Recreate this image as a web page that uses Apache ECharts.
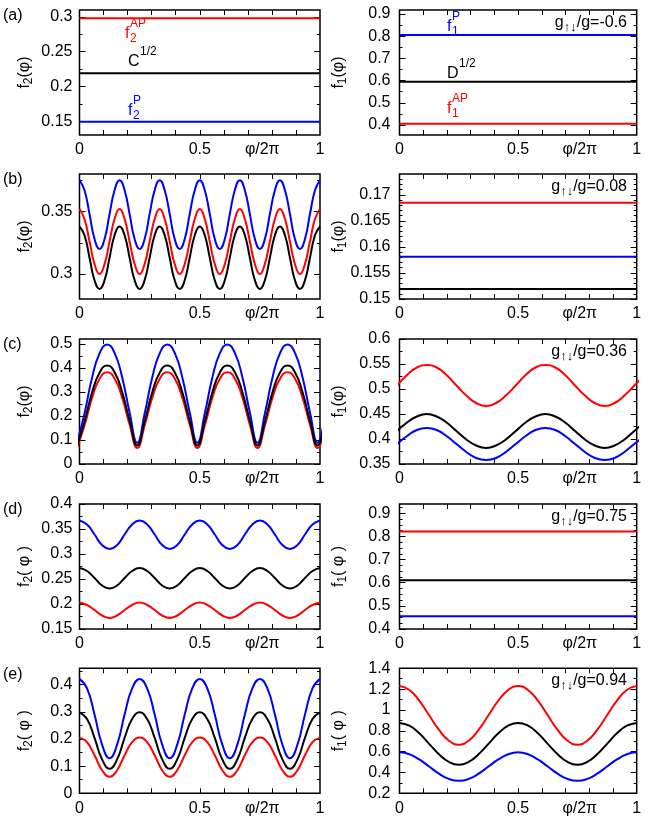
<!DOCTYPE html>
<html lang="en">
<head>
<meta charset="UTF-8">
<title>f1 / f2 vs phi</title>
<script src="https://cdn.jsdelivr.net/npm/echarts@6/dist/echarts.min.js"></script>
<style>
	html, body { margin: 0; padding: 0; background: #fff; }
	#main { width: 654px; height: 822px; }
</style>
</head>
<body>
<div id="main"></div>
<script>
var FF = '"Liberation Sans", Arial, Helvetica, sans-serif';
var RED = '#ff0000', BLUE = '#0000ff', BLACK = '#000000';

// x sample positions (phi/2pi)
var xFlat = [0, 1];
var xs48 = [0, 0.0208, 0.0417, 0.0625, 0.0833, 0.1042, 0.125, 0.1458,
	0.1667, 0.1875, 0.2083, 0.2292, 0.25, 0.2708, 0.2917, 0.3125,
	0.3333, 0.3542, 0.375, 0.3958, 0.4167, 0.4375, 0.4583, 0.4792,
	0.5, 0.5208, 0.5417, 0.5625, 0.5833, 0.6042, 0.625, 0.6458,
	0.6667, 0.6875, 0.7083, 0.7292, 0.75, 0.7708, 0.7917, 0.8125,
	0.8333, 0.8542, 0.875, 0.8958, 0.9167, 0.9375, 0.9583, 0.9792, 1];
var xs32 = [0, 0.0313, 0.0625, 0.0938, 0.125, 0.1563, 0.1875, 0.2188,
	0.25, 0.2813, 0.3125, 0.3438, 0.375, 0.4063, 0.4375, 0.4688,
	0.5, 0.5313, 0.5625, 0.5938, 0.625, 0.6563, 0.6875, 0.7188,
	0.75, 0.7813, 0.8125, 0.8438, 0.875, 0.9063, 0.9375, 0.9688, 1];
var xsC = [-0.01, 0.0213, 0.0525, 0.0838, 0.115, 0.1463, 0.1775, 0.2088,
	0.24, 0.2713, 0.3025, 0.3338, 0.365, 0.3963, 0.4275, 0.4588,
	0.49, 0.5213, 0.5525, 0.5838, 0.615, 0.6463, 0.6775, 0.7088,
	0.74, 0.7713, 0.8025, 0.8338, 0.865, 0.8963, 0.9275, 0.9588, 0.99, 1.0213];
var xsCR = [-0.01, 0.0317, 0.0733, 0.115, 0.1567, 0.1983, 0.24, 0.2817, 0.3233,
	0.365, 0.4067, 0.4483, 0.49, 0.5317, 0.5733, 0.615, 0.6567, 0.6983,
	0.74, 0.7817, 0.8233, 0.865, 0.9067, 0.9483, 0.99, 1.0317];
var xs24 = [0, 0.0417, 0.0833, 0.125, 0.1667, 0.2083, 0.25, 0.2917, 0.3333,
	0.375, 0.4167, 0.4583, 0.5, 0.5417, 0.5833, 0.625, 0.6667, 0.7083,
	0.75, 0.7917, 0.8333, 0.875, 0.9167, 0.9583, 1];

// (a) g/g = -0.6
var aL_red = [0.298, 0.298];
var aL_black = [0.219, 0.219];
var aL_blue = [0.149, 0.149];
var aR_blue = [0.805, 0.805];
var aR_black = [0.595, 0.595];
var aR_red = [0.406, 0.406];

// (b) g/g = 0.08
var bL_blue = [0.375, 0.367, 0.348, 0.328, 0.32, 0.328, 0.348, 0.367,
	0.375, 0.367, 0.348, 0.328, 0.32, 0.328, 0.348, 0.367,
	0.375, 0.367, 0.348, 0.328, 0.32, 0.328, 0.348, 0.367,
	0.375, 0.367, 0.348, 0.328, 0.32, 0.328, 0.348, 0.367,
	0.375, 0.367, 0.348, 0.328, 0.32, 0.328, 0.348, 0.367,
	0.375, 0.367, 0.348, 0.328, 0.32, 0.328, 0.348, 0.367, 0.375];
var bL_red = [0.352, 0.344, 0.326, 0.308, 0.3, 0.308, 0.326, 0.344,
	0.352, 0.344, 0.326, 0.308, 0.3, 0.308, 0.326, 0.344,
	0.352, 0.344, 0.326, 0.308, 0.3, 0.308, 0.326, 0.344,
	0.352, 0.344, 0.326, 0.308, 0.3, 0.308, 0.326, 0.344,
	0.352, 0.344, 0.326, 0.308, 0.3, 0.308, 0.326, 0.344,
	0.352, 0.344, 0.326, 0.308, 0.3, 0.308, 0.326, 0.344, 0.352];
var bL_black = [0.338, 0.331, 0.313, 0.295, 0.288, 0.295, 0.313, 0.331,
	0.338, 0.331, 0.313, 0.295, 0.288, 0.295, 0.313, 0.331,
	0.338, 0.331, 0.313, 0.295, 0.288, 0.295, 0.313, 0.331,
	0.338, 0.331, 0.313, 0.295, 0.288, 0.295, 0.313, 0.331,
	0.338, 0.331, 0.313, 0.295, 0.288, 0.295, 0.313, 0.331,
	0.338, 0.331, 0.313, 0.295, 0.288, 0.295, 0.313, 0.331, 0.338];
var bR_red = [0.1685, 0.1685];
var bR_blue = [0.1581, 0.1581];
var bR_black = [0.1519, 0.1519];

// (c) g/g = 0.36
var cL_blue = [0.088, 0.212, 0.36, 0.461, 0.497, 0.461, 0.36, 0.212,
	0.088, 0.212, 0.36, 0.461, 0.497, 0.461, 0.36, 0.212,
	0.088, 0.212, 0.36, 0.461, 0.497, 0.461, 0.36, 0.212,
	0.088, 0.212, 0.36, 0.461, 0.497, 0.461, 0.36, 0.212, 0.088, 0.212];
var cL_black = [0.077, 0.178, 0.298, 0.381, 0.41, 0.381, 0.298, 0.178,
	0.077, 0.178, 0.298, 0.381, 0.41, 0.381, 0.298, 0.178,
	0.077, 0.178, 0.298, 0.381, 0.41, 0.381, 0.298, 0.178,
	0.077, 0.178, 0.298, 0.381, 0.41, 0.381, 0.298, 0.178, 0.077, 0.178];
var cL_red = [0.067, 0.162, 0.276, 0.355, 0.382, 0.355, 0.276, 0.162,
	0.067, 0.162, 0.276, 0.355, 0.382, 0.355, 0.276, 0.162,
	0.067, 0.162, 0.276, 0.355, 0.382, 0.355, 0.276, 0.162,
	0.067, 0.162, 0.276, 0.355, 0.382, 0.355, 0.276, 0.162, 0.067, 0.162];
var cR_red = [0.507, 0.528, 0.543, 0.548, 0.543, 0.528, 0.507, 0.487, 0.472, 0.466, 0.472, 0.487,
	0.507, 0.528, 0.543, 0.548, 0.543, 0.528, 0.507, 0.487, 0.472, 0.466, 0.472, 0.487, 0.507, 0.528];
var cR_black = [0.416, 0.433, 0.445, 0.45, 0.445, 0.433, 0.416, 0.399, 0.387, 0.382, 0.387, 0.399,
	0.416, 0.433, 0.445, 0.45, 0.445, 0.433, 0.416, 0.399, 0.387, 0.382, 0.387, 0.399, 0.416, 0.433];
var cR_blue = [0.39, 0.406, 0.418, 0.422, 0.418, 0.406, 0.39, 0.374, 0.362, 0.358, 0.362, 0.374,
	0.39, 0.406, 0.418, 0.422, 0.418, 0.406, 0.39, 0.374, 0.362, 0.358, 0.362, 0.374, 0.39, 0.406];

// (d) g/g = 0.75
var dL_blue = [0.367, 0.359, 0.339, 0.318, 0.31, 0.318, 0.339, 0.359,
	0.367, 0.359, 0.339, 0.318, 0.31, 0.318, 0.339, 0.359,
	0.367, 0.359, 0.339, 0.318, 0.31, 0.318, 0.339, 0.359,
	0.367, 0.359, 0.339, 0.318, 0.31, 0.318, 0.339, 0.359, 0.367];
var dL_black = [0.272, 0.266, 0.252, 0.237, 0.231, 0.237, 0.252, 0.266,
	0.272, 0.266, 0.252, 0.237, 0.231, 0.237, 0.252, 0.266,
	0.272, 0.266, 0.252, 0.237, 0.231, 0.237, 0.252, 0.266,
	0.272, 0.266, 0.252, 0.237, 0.231, 0.237, 0.252, 0.266, 0.272];
var dL_red = [0.203, 0.198, 0.188, 0.177, 0.172, 0.177, 0.188, 0.198,
	0.203, 0.198, 0.188, 0.177, 0.172, 0.177, 0.188, 0.198,
	0.203, 0.198, 0.188, 0.177, 0.172, 0.177, 0.188, 0.198,
	0.203, 0.198, 0.188, 0.177, 0.172, 0.177, 0.188, 0.198, 0.203];
var dR_red = [0.821, 0.821];
var dR_black = [0.611, 0.611];
var dR_blue = [0.455, 0.455];

// (e) g/g = 0.94
var eL_blue = [0.421, 0.386, 0.29, 0.179, 0.129, 0.179, 0.29, 0.386,
	0.421, 0.386, 0.29, 0.179, 0.129, 0.179, 0.29, 0.386,
	0.421, 0.386, 0.29, 0.179, 0.129, 0.179, 0.29, 0.386,
	0.421, 0.386, 0.29, 0.179, 0.129, 0.179, 0.29, 0.386, 0.421];
var eL_black = [0.298, 0.273, 0.204, 0.125, 0.09, 0.125, 0.204, 0.273,
	0.298, 0.273, 0.204, 0.125, 0.09, 0.125, 0.204, 0.273,
	0.298, 0.273, 0.204, 0.125, 0.09, 0.125, 0.204, 0.273,
	0.298, 0.273, 0.204, 0.125, 0.09, 0.125, 0.204, 0.273, 0.298];
var eL_red = [0.205, 0.188, 0.14, 0.085, 0.061, 0.085, 0.14, 0.188,
	0.205, 0.188, 0.14, 0.085, 0.061, 0.085, 0.14, 0.188,
	0.205, 0.188, 0.14, 0.085, 0.061, 0.085, 0.14, 0.188,
	0.205, 0.188, 0.14, 0.085, 0.061, 0.085, 0.14, 0.188, 0.205];
var eR_red = [1.23, 1.192, 1.089, 0.949, 0.808, 0.705, 0.667, 0.705, 0.808, 0.949, 1.089, 1.192,
	1.23, 1.192, 1.089, 0.949, 0.808, 0.705, 0.667, 0.705, 0.808, 0.949, 1.089, 1.192, 1.23];
var eR_black = [0.876, 0.849, 0.776, 0.675, 0.575, 0.501, 0.474, 0.501, 0.575, 0.675, 0.776, 0.849,
	0.876, 0.849, 0.776, 0.675, 0.575, 0.501, 0.474, 0.501, 0.575, 0.675, 0.776, 0.849, 0.876];
var eR_blue = [0.593, 0.575, 0.525, 0.457, 0.388, 0.338, 0.32, 0.338, 0.388, 0.457, 0.525, 0.575,
	0.593, 0.575, 0.525, 0.457, 0.388, 0.338, 0.32, 0.338, 0.388, 0.457, 0.525, 0.575, 0.593];

// tick labels
var xTickVals = [0.1, 0.2, 0.3, 0.4, 0.5, 0.6, 0.7, 0.8, 0.9];
var xLabelVals = [0, 0.5, 0.76, 1];
var xLabelText = ['0', '0.5', 'φ/2π', '1'];

var aL_ticks = [0.15, 0.2, 0.25, 0.3];
var aL_minor = [0.175, 0.225, 0.275];
var aR_ticks = [0.4, 0.5, 0.6, 0.7, 0.8, 0.9];
var aR_minor = [0.45, 0.55, 0.65, 0.75, 0.85];
var bL_ticks = [0.3, 0.35];
var bL_minor = [0.325, 0.375];
var bR_ticks = [0.15, 0.155, 0.16, 0.165, 0.17];
var bR_minor = [0.151, 0.152, 0.153, 0.154, 0.156, 0.157, 0.158, 0.159, 0.161, 0.162,
	0.163, 0.164, 0.166, 0.167, 0.168, 0.169, 0.171, 0.172, 0.173];
var cL_ticks = [0, 0.1, 0.2, 0.3, 0.4, 0.5];
var cL_minor = [0.05, 0.15, 0.25, 0.35, 0.45];
var cR_ticks = [0.35, 0.4, 0.45, 0.5, 0.55, 0.6];
var cR_minor = [0.375, 0.425, 0.475, 0.525, 0.575];
var dL_ticks = [0.15, 0.2, 0.25, 0.3, 0.35, 0.4];
var dL_minor = [0.175, 0.225, 0.275, 0.325, 0.375];
var dR_ticks = [0.4, 0.5, 0.6, 0.7, 0.8, 0.9];
var dR_minor = [0.425, 0.45, 0.475, 0.525, 0.55, 0.575, 0.625, 0.65, 0.675,
	0.725, 0.75, 0.775, 0.825, 0.85, 0.875, 0.925];
var eL_ticks = [0, 0.1, 0.2, 0.3, 0.4];
var eL_minor = [0.05, 0.15, 0.25, 0.35, 0.45];
var eR_ticks = [0.2, 0.4, 0.6, 0.8, 1, 1.2, 1.4];
var eR_minor = [0.3, 0.5, 0.7, 0.9, 1.1, 1.3];

var panelTags = ['(a)', '(b)', '(c)', '(d)', '(e)'];
var couplings = ['-0.6', '0.08', '0.36', '0.75', '0.94'];

// layout
var rowTop = [10, 174, 339, 504, 668.3];
var colLeft = [79.5, 399.5];
var colWidth = [240.5, 237.2];
var plotH = 125;

var panels = [
	{row: 0, col: 0, ymin: 0.13, ymax: 0.31, ticks: aL_ticks, minor: aL_minor, sp: '(φ)',
		lines: [[xFlat, aL_red, RED], [xFlat, aL_black, BLACK], [xFlat, aL_blue, BLUE]]},
	{row: 0, col: 1, ymin: 0.355, ymax: 0.918, ticks: aR_ticks, minor: aR_minor, sp: '(φ)',
		lines: [[xFlat, aR_red, RED], [xFlat, aR_black, BLACK], [xFlat, aR_blue, BLUE]]},
	{row: 1, col: 0, ymin: 0.28, ymax: 0.38, ticks: bL_ticks, minor: bL_minor, sp: '(φ)',
		lines: [[xs48, bL_black, BLACK], [xs48, bL_red, RED], [xs48, bL_blue, BLUE]]},
	{row: 1, col: 1, ymin: 0.15, ymax: 0.174, ticks: bR_ticks, minor: bR_minor, sp: '(φ)',
		lines: [[xFlat, bR_red, RED], [xFlat, bR_blue, BLUE], [xFlat, bR_black, BLACK]]},
	{row: 2, col: 0, ymin: 0, ymax: 0.52, ticks: cL_ticks, minor: cL_minor, sp: '(φ)',
		lines: [[xsC, cL_red, RED], [xsC, cL_blue, BLUE], [xsC, cL_black, BLACK]]},
	{row: 2, col: 1, ymin: 0.35, ymax: 0.6, ticks: cR_ticks, minor: cR_minor, sp: '(φ)',
		lines: [[xsCR, cR_red, RED], [xsCR, cR_black, BLACK], [xsCR, cR_blue, BLUE]]},
	{row: 3, col: 0, ymin: 0.15, ymax: 0.4, ticks: dL_ticks, minor: dL_minor, sp: '( φ )',
		lines: [[xs32, dL_blue, BLUE], [xs32, dL_black, BLACK], [xs32, dL_red, RED]]},
	{row: 3, col: 1, ymin: 0.4, ymax: 0.94, ticks: dR_ticks, minor: dR_minor, sp: '( φ )',
		lines: [[xFlat, dR_red, RED], [xFlat, dR_black, BLACK], [xFlat, dR_blue, BLUE]]},
	{row: 4, col: 0, ymin: 0, ymax: 0.46, ticks: eL_ticks, minor: eL_minor, sp: '( φ )',
		lines: [[xs32, eL_blue, BLUE], [xs32, eL_black, BLACK], [xs32, eL_red, RED]]},
	{row: 4, col: 1, ymin: 0.2, ymax: 1.4, ticks: eR_ticks, minor: eR_minor, sp: '( φ )',
		lines: [[xs24, eR_red, RED], [xs24, eR_black, BLACK], [xs24, eR_blue, BLUE]]}
];

function pairs(xs, ys) {
	var out = [];
	for (var i = 0; i < xs.length; i++) out.push([xs[i], ys[i]]);
	return out;
}
function xFmt(v) {
	for (var i = 0; i < xLabelVals.length; i++) {
		if (Math.abs(v - xLabelVals[i]) < 1e-6) return xLabelText[i];
	}
	return '';
}

var RICH = {
	b: {fontSize: 16, fontFamily: FF, lineHeight: 20, verticalAlign: 'middle'},
	s: {fontSize: 12, fontFamily: FF, lineHeight: 20, verticalAlign: 'bottom'},
	r: {fontSize: 13, fontFamily: FF, lineHeight: 22, verticalAlign: 'bottom'}
};

var mctx = document.createElement('canvas').getContext('2d');
function textW(s, size) {
	mctx.font = size + 'px ' + FF;
	return mctx.measureText(s).width;
}
function plain(x, y, s, size, color, align) {
	return {type: 'text', x: x, y: y, silent: true,
		style: {text: s, fill: color, font: size + 'px ' + FF, align: align || 'left', textAlign: align || 'left',
			verticalAlign: 'middle', textVerticalAlign: 'middle'}};
}
// base letter with stacked subscript / superscript, gnuplot style
function script(x, y, base, sub, sup, color) {
	var w = textW(base, 16) + 0.5;
	var els = [plain(x, y, base, 16, color)];
	if (sub) els.push(plain(x + w, y + 5, sub, 12, color));
	if (sup) els.push(plain(x + w, y - 10, sup, 12, color));
	return els;
}

var grids = [], xAxes = [], yAxes = [], series = [], graphics = [];

panels.forEach(function (p, g) {
	var top = rowTop[p.row];
	grids.push({left: colLeft[p.col], top: top, width: colWidth[p.col], height: plotH,
		show: true, borderColor: '#000', borderWidth: 1.5, backgroundColor: 'transparent'});

	['bottom', 'top'].forEach(function (pos) {
		xAxes.push({
			gridIndex: g, type: 'value', min: 0, max: 1, position: pos,
			axisLine: {show: false, onZero: false},
			splitLine: {show: false},
			axisTick: {show: true, inside: true, length: 5, customValues: xTickVals,
				lineStyle: {color: '#000', width: 1}},
			axisLabel: pos === 'bottom' ? {show: true, customValues: xLabelVals, formatter: xFmt,
				margin: 7, color: '#000', fontSize: 16, fontFamily: FF} : {show: false}
		});
	});

	[['left', true], ['left', false], ['right', true], ['right', false]].forEach(function (a) {
		var major = a[1];
		yAxes.push({
			gridIndex: g, type: 'value', min: p.ymin, max: p.ymax, position: a[0],
			axisLine: {show: false, onZero: false},
			splitLine: {show: false},
			axisTick: {show: true, inside: true, length: major ? 6 : 3,
				customValues: major ? p.ticks : p.minor, lineStyle: {color: '#000', width: 1}},
			axisLabel: (a[0] === 'left' && major) ? {show: true, customValues: p.ticks,
				formatter: function (v) { return String(v); },
				margin: p.col === 0 ? 7 : 9, color: '#000', fontSize: 16, fontFamily: FF} : {show: false}
		});
	});

	p.lines.forEach(function (ln) {
		series.push({
			type: 'line', xAxisIndex: 2 * g, yAxisIndex: 4 * g,
			data: pairs(ln[0], ln[1]),
			showSymbol: false, symbol: 'none', smooth: ln[0].length > 2 ? 0.5 : false,
			clip: true, silent: true,
			lineStyle: {color: ln[2], width: 2}
		});
	});

	// y axis title
	var fi = p.col === 0 ? '2' : '1';
	graphics.push({type: 'text', x: p.col === 0 ? 25 : 339, y: top + plotH / 2,
		rotation: Math.PI / 2, silent: true,
		style: {text: '{b|f}{s|' + fi + '}{b|' + p.sp + '}', rich: RICH, fill: '#000',
			align: 'center', textAlign: 'center', verticalAlign: 'middle', textVerticalAlign: 'middle'}});

	if (p.col === 0) {
		graphics.push(plain(3, top + 6, panelTags[p.row], 16, '#000'));
	} else {
		graphics.push({type: 'text', x: 627, y: top + 12.5, silent: true,
			style: {text: '{b|g}{r|↑↓}{b|/g=' + couplings[p.row] + '}', rich: RICH, fill: '#000',
				align: 'right', textAlign: 'right', verticalAlign: 'middle', textVerticalAlign: 'middle'}});
	}
});

// curve labels in panel (a)
graphics = graphics
	.concat(script(125, 34, 'f', '2', 'AP', RED))
	.concat(script(128, 62, 'C', null, '1/2', BLACK))
	.concat(script(128, 111, 'f', '2', 'P', BLUE))
	.concat(script(447, 27, 'f', '1', 'P', BLUE))
	.concat(script(447, 74, 'D', null, '1/2', BLACK))
	.concat(script(447, 109, 'f', '1', 'AP', RED));

var chart = echarts.init(document.getElementById('main'));
chart.setOption({
	animation: false,
	backgroundColor: '#fff',
	grid: grids,
	xAxis: xAxes,
	yAxis: yAxes,
	series: series,
	graphic: {elements: graphics}
});
</script>
</body>
</html>
